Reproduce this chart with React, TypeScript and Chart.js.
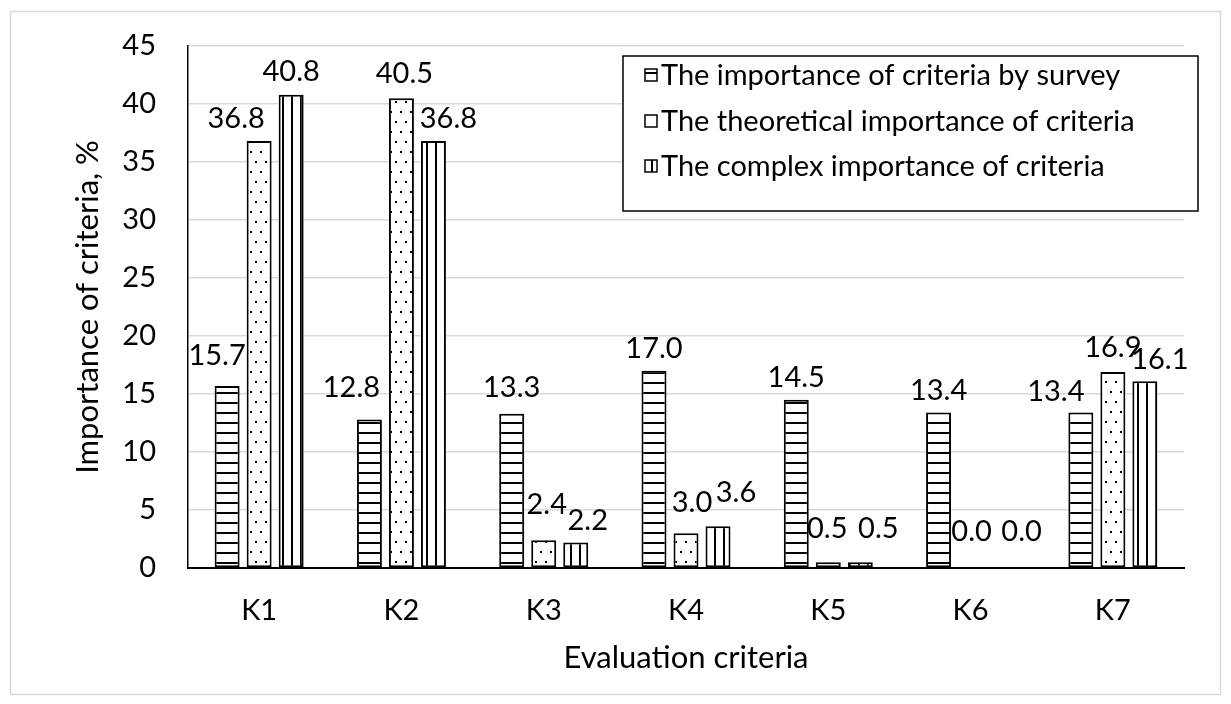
import React, { useEffect, useRef } from "react";
import { Chart, registerables } from "chart.js";

Chart.register(...registerables);

const categories = ["K1", "K2", "K3", "K4", "K5", "K6", "K7"];
const surveyValues = [15.7, 12.8, 13.3, 17.0, 14.5, 13.4, 13.4];
const theoreticalValues = [36.8, 40.5, 2.4, 3.0, 0.5, 0.0, 16.9];
const complexValues = [40.8, 36.8, 2.2, 3.6, 0.5, 0.0, 16.1];
const seriesLabels = [
  "The importance of criteria by survey",
  "The theoretical importance of criteria",
  "The complex importance of criteria",
];
const yMin = 0;
const yMax = 45;
const yStep = 5;
const xTitle = "Evaluation criteria";
const yTitle = "Importance of criteria, %";

// label nudges (dx, dy) in px, mimicking the original's overlap avoidance
const labelNudges = [
  [[-10, -8], [-18, -10], [0, -4], [0, 0], [0, 0], [0, 0], [-25, 1]],
  [[-23, 0], [3, -3], [3, -14], [6, -9], [-1, -12], [1, -14], [0, -2]],
  [[0, -1], [15, 0], [12, 0], [18, -12], [18, -12], [19, -14], [15, 0]],
];

const FONT = "Lato, 'Open Sans', sans-serif";
const FS = 29;
const TITLE_FS = 31;

function makePattern(kind: string): CanvasPattern | string {
  const c = document.createElement("canvas");
  const ctx = c.getContext("2d");
  if (!ctx) return "#fff";
  if (kind === "h") {
    c.width = 10; c.height = 10;
    ctx.fillStyle = "#fff"; ctx.fillRect(0, 0, 10, 10);
    ctx.fillStyle = "#000"; ctx.fillRect(0, 4, 10, 2);
  } else if (kind === "v") {
    c.width = 9; c.height = 9;
    ctx.fillStyle = "#fff"; ctx.fillRect(0, 0, 9, 9);
    ctx.fillStyle = "#000"; ctx.fillRect(4, 0, 2, 9);
  } else {
    c.width = 10; c.height = 20;
    ctx.fillStyle = "#fff"; ctx.fillRect(0, 0, 10, 20);
    ctx.fillStyle = "#000";
    ctx.fillRect(2, 3, 2, 2);
    ctx.fillRect(7, 13, 2, 2);
  }
  return ctx.createPattern(c, "repeat") || "#fff";
}

const frameBg = {
  id: "frameBg",
  beforeDraw(chart: any) {
    const ctx = chart.ctx;
    ctx.save();
    ctx.fillStyle = "#fff";
    ctx.fillRect(0, 0, chart.width, chart.height);
    ctx.strokeStyle = "#d9d9d9";
    ctx.lineWidth = 1.5;
    ctx.strokeRect(2.5, 3.5, 1210, 683);
    ctx.restore();
  },
};

const valueLabels = {
  id: "valueLabels",
  afterDatasetsDraw(chart: any) {
    const ctx = chart.ctx;
    ctx.save();
    ctx.font = `${FS}px ${FONT}`;
    ctx.fillStyle = "#000";
    ctx.textAlign = "center";
    ctx.textBaseline = "middle";
    chart.data.datasets.forEach((ds: any, i: number) => {
      const meta = chart.getDatasetMeta(i);
      meta.data.forEach((el: any, j: number) => {
        const v = ds.data[j] as number;
        const n = labelNudges[i][j];
        ctx.fillText(v.toFixed(1), el.x + n[0], el.y - 22 + n[1]);
      });
    });
    ctx.restore();
  },
};

const boxLegend = {
  id: "boxLegend",
  afterDraw(chart: any) {
    const ctx = chart.ctx;
    const x0 = 615, y0 = 48, w = 575, h = 155;
    ctx.save();
    ctx.fillStyle = "#fff";
    ctx.fillRect(x0, y0, w, h);
    ctx.strokeStyle = "#000";
    ctx.lineWidth = 1.5;
    ctx.strokeRect(x0, y0, w, h);
    ctx.font = `${FS}px ${FONT}`;
    ctx.textAlign = "left";
    ctx.textBaseline = "alphabetic";
    const baselines = [77, 123, 168];
    chart.data.datasets.forEach((ds: any, i: number) => {
      const b = baselines[i];
      const sx = 637, sy = b - 16;
      ctx.fillStyle = i === 1 ? "#fff" : ds.backgroundColor;
      ctx.fillRect(sx, sy, 12, 12);
      ctx.strokeStyle = "#000";
      ctx.lineWidth = 1.5;
      ctx.strokeRect(sx, sy, 12, 12);
      ctx.fillStyle = "#000";
      ctx.fillText(ds.label, 653, b);
    });
    ctx.restore();
  },
};

export default function App() {
  const ref = useRef<HTMLCanvasElement | null>(null);
  useEffect(() => {
    if (!ref.current) return;
    const patterns = [makePattern("h"), makePattern("d"), makePattern("v")];
    const seriesData = [surveyValues, theoreticalValues, complexValues];
    const chart = new Chart(ref.current, {
      type: "bar",
      data: {
        labels: categories,
        datasets: seriesData.map((d, i) => ({
          label: seriesLabels[i],
          data: d,
          backgroundColor: patterns[i] as any,
          borderColor: "#000",
          borderWidth: 2,
          borderSkipped: false,
          barPercentage: 0.78,
          categoryPercentage: 0.675,
        })),
      },
      options: {
        responsive: false,
        animation: false,
        layout: { padding: { left: 0, right: 39, top: 38, bottom: 0 } },
        plugins: {
          legend: { display: false },
          tooltip: { enabled: false },
        },
        scales: {
          x: {
            grid: { display: false, drawTicks: false },
            border: { display: true, color: "#000", width: 2 },
            ticks: { color: "#000", font: { family: FONT, size: FS }, padding: 25 },
            title: {
              display: true,
              text: xTitle,
              color: "#000",
              font: { family: FONT, size: TITLE_FS },
              padding: { top: 0, bottom: 19 },
            },
            afterFit: (s: any) => { s.height = 128; s.paddingLeft = 0; s.paddingRight = 0; },
          },
          y: {
            min: yMin,
            max: yMax,
            grid: { color: "#d9d9d9", lineWidth: 1.5, drawTicks: false },
            border: { display: true, color: "#000", width: 1.5 },
            ticks: { stepSize: yStep, color: "#000", font: { family: FONT, size: FS }, padding: 32 },
            title: {
              display: true,
              text: yTitle,
              color: "#000",
              font: { family: FONT, size: TITLE_FS },
              padding: { top: 61, bottom: 0 },
            },
            afterFit: (s: any) => { s.width = 180; s.paddingTop = 0; s.paddingBottom = 0; },
          },
        },
      },
      plugins: [frameBg, valueLabels, boxLegend],
    });
    return () => chart.destroy();
  }, []);
  return <canvas ref={ref} width={1215} height={688} style={{ display: "block" }} />;
}
